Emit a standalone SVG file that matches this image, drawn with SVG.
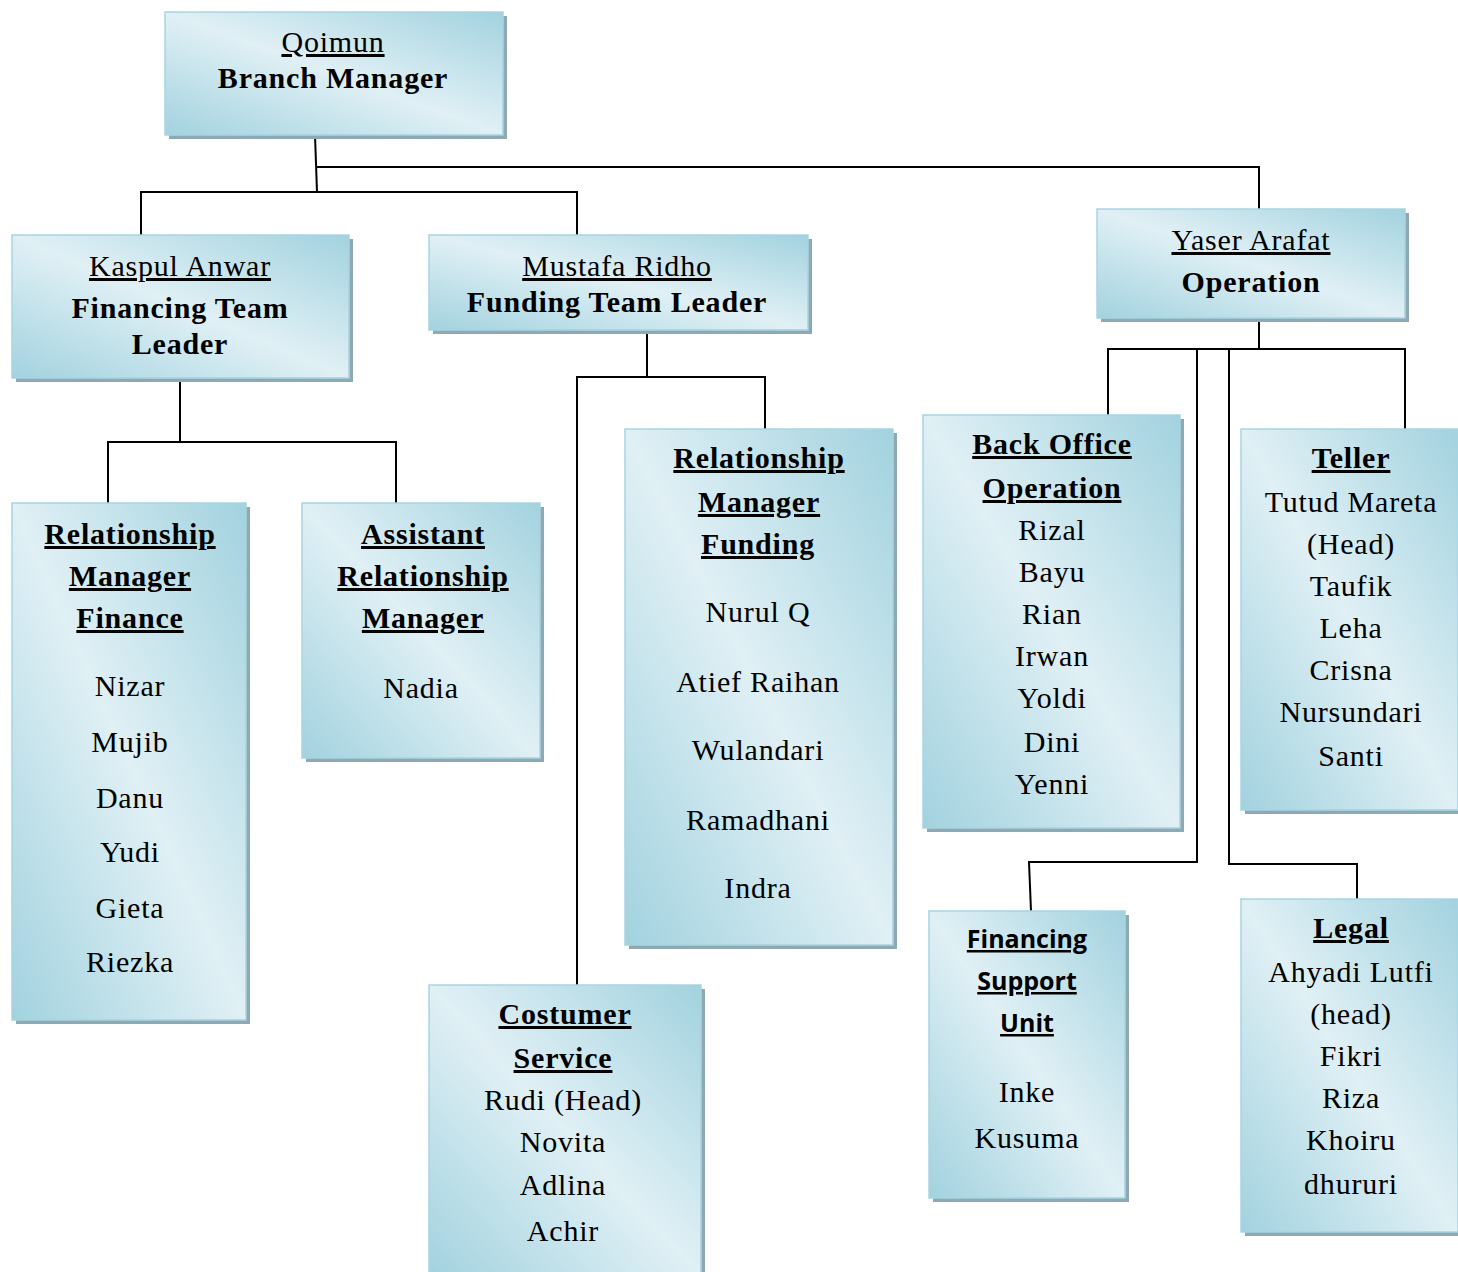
<svg xmlns="http://www.w3.org/2000/svg" width="1458" height="1272" viewBox="0 0 1458 1272">
<defs>
<linearGradient id="g" x1="1" y1="0" x2="0" y2="1">
<stop offset="0" stop-color="#a2d2df"/>
<stop offset="0.5" stop-color="#e0f0f5"/>
<stop offset="1" stop-color="#a2d2df"/>
</linearGradient>
</defs>
<style>
.sh{fill:#8fa9b4}
.bx{fill:url(#g);stroke:#a6d5e1;stroke-width:1.5}
text{font-family:"Liberation Serif","Times New Roman",serif;font-size:30px;letter-spacing:0.8px;fill:#000;text-anchor:middle}
.b{font-weight:bold}
.u{text-decoration:underline}
.s{font-family:"Open Sans","Noto Sans","Liberation Sans",sans-serif;font-size:25px;letter-spacing:0;font-weight:bold;text-decoration:underline}
.c{fill:none;stroke:#000;stroke-width:2}
</style>
<rect width="1458" height="1272" fill="#fff"/>
<g id="connectors">
<path class="c" d="M315 135 L317 192"/>
<path class="c" d="M316 167 H1259 V209"/>
<path class="c" d="M141 235 V192 H577 V235"/>
<path class="c" d="M180 378 V442"/>
<path class="c" d="M108 503 V442 H396 V503"/>
<path class="c" d="M647 330 V377"/>
<path class="c" d="M577 985 V377 H765 V429"/>
<path class="c" d="M1259 318 V349"/>
<path class="c" d="M1108 415 V349 H1405 V429"/>
<path class="c" d="M1197 349 V862 H1029 L1031 911"/>
<path class="c" d="M1229 349 V864 H1357 V899"/>
</g>
<g id="n-qoimun">
<rect class="sh" x="169" y="16" width="338" height="123"/>
<rect class="bx" x="165" y="12" width="338" height="123"/>
<text x="333" y="52" class="u">Qoimun</text>
<text x="333" y="88" class="b">Branch Manager</text>
</g>
<g id="n-kaspul">
<rect class="sh" x="16" y="239" width="337" height="143"/>
<rect class="bx" x="12" y="235" width="337" height="143"/>
<text x="180" y="276" class="u">Kaspul Anwar</text>
<text x="180" y="318" class="b">Financing Team</text>
<text x="180" y="354" class="b">Leader</text>
</g>
<g id="n-mustafa">
<rect class="sh" x="433" y="239" width="379" height="95"/>
<rect class="bx" x="429" y="235" width="379" height="95"/>
<text x="617" y="276" class="u">Mustafa Ridho</text>
<text x="617" y="312" class="b">Funding Team Leader</text>
</g>
<g id="n-yaser">
<rect class="sh" x="1101" y="213" width="308" height="109"/>
<rect class="bx" x="1097" y="209" width="308" height="109"/>
<text x="1251" y="250" class="u">Yaser Arafat</text>
<text x="1251" y="292" class="b">Operation</text>
</g>
<g id="n-rmfinance">
<rect class="sh" x="16" y="507" width="234" height="517"/>
<rect class="bx" x="12" y="503" width="234" height="517"/>
<text x="130" y="544" class="b u">Relationship</text>
<text x="130" y="586" class="b u">Manager</text>
<text x="130" y="628" class="b u">Finance</text>
<text x="130" y="696">Nizar</text>
<text x="130" y="752">Mujib</text>
<text x="130" y="808">Danu</text>
<text x="130" y="862">Yudi</text>
<text x="130" y="918">Gieta</text>
<text x="130" y="972">Riezka</text>
</g>
<g id="n-assistant">
<rect class="sh" x="306" y="507" width="238" height="255"/>
<rect class="bx" x="302" y="503" width="238" height="255"/>
<text x="423" y="544" class="b u">Assistant</text>
<text x="423" y="586" class="b u">Relationship</text>
<text x="423" y="628" class="b u">Manager</text>
<text x="421" y="698">Nadia</text>
</g>
<g id="n-rmfunding">
<rect class="sh" x="629" y="433" width="268" height="516"/>
<rect class="bx" x="625" y="429" width="268" height="516"/>
<text x="759" y="468" class="b u">Relationship</text>
<text x="759" y="512" class="b u">Manager</text>
<text x="758" y="554" class="b u">Funding</text>
<text x="758" y="622">Nurul Q</text>
<text x="758" y="692">Atief Raihan</text>
<text x="758" y="760">Wulandari</text>
<text x="758" y="830">Ramadhani</text>
<text x="758" y="898">Indra</text>
</g>
<g id="n-cs">
<rect class="sh" x="433" y="989" width="272" height="290"/>
<rect class="bx" x="429" y="985" width="272" height="290"/>
<text x="565" y="1024" class="b u">Costumer</text>
<text x="563" y="1068" class="b u">Service</text>
<text x="563" y="1110">Rudi (Head)</text>
<text x="563" y="1152">Novita</text>
<text x="563" y="1195">Adlina</text>
<text x="563" y="1241">Achir</text>
</g>
<g id="n-backoffice">
<rect class="sh" x="927" y="419" width="257" height="413"/>
<rect class="bx" x="923" y="415" width="257" height="413"/>
<text x="1052" y="454" class="b u">Back Office</text>
<text x="1052" y="498" class="b u">Operation</text>
<text x="1052" y="540">Rizal</text>
<text x="1052" y="582">Bayu</text>
<text x="1052" y="624">Rian</text>
<text x="1052" y="666">Irwan</text>
<text x="1052" y="708">Yoldi</text>
<text x="1052" y="752">Dini</text>
<text x="1052" y="794">Yenni</text>
</g>
<g id="n-teller">
<rect class="sh" x="1245" y="433" width="217" height="381"/>
<rect class="bx" x="1241" y="429" width="217" height="381"/>
<text x="1351" y="468" class="b u">Teller</text>
<text x="1351" y="512">Tutud Mareta</text>
<text x="1351" y="554">(Head)</text>
<text x="1351" y="596">Taufik</text>
<text x="1351" y="638">Leha</text>
<text x="1351" y="680">Crisna</text>
<text x="1351" y="722">Nursundari</text>
<text x="1351" y="766">Santi</text>
</g>
<g id="n-fsu">
<rect class="sh" x="933" y="915" width="196" height="287"/>
<rect class="bx" x="929" y="911" width="196" height="287"/>
<text x="1027" y="948" class="s">Financing</text>
<text x="1027" y="990" class="s">Support</text>
<text x="1027" y="1032" class="s">Unit</text>
<text x="1027" y="1102">Inke</text>
<text x="1027" y="1148">Kusuma</text>
</g>
<g id="n-legal">
<rect class="sh" x="1245" y="903" width="217" height="333"/>
<rect class="bx" x="1241" y="899" width="217" height="333"/>
<text x="1351" y="938" class="b u">Legal</text>
<text x="1351" y="982">Ahyadi Lutfi</text>
<text x="1351" y="1024">(head)</text>
<text x="1351" y="1066">Fikri</text>
<text x="1351" y="1108">Riza</text>
<text x="1351" y="1150">Khoiru</text>
<text x="1351" y="1194">dhururi</text>
</g>
</svg>
